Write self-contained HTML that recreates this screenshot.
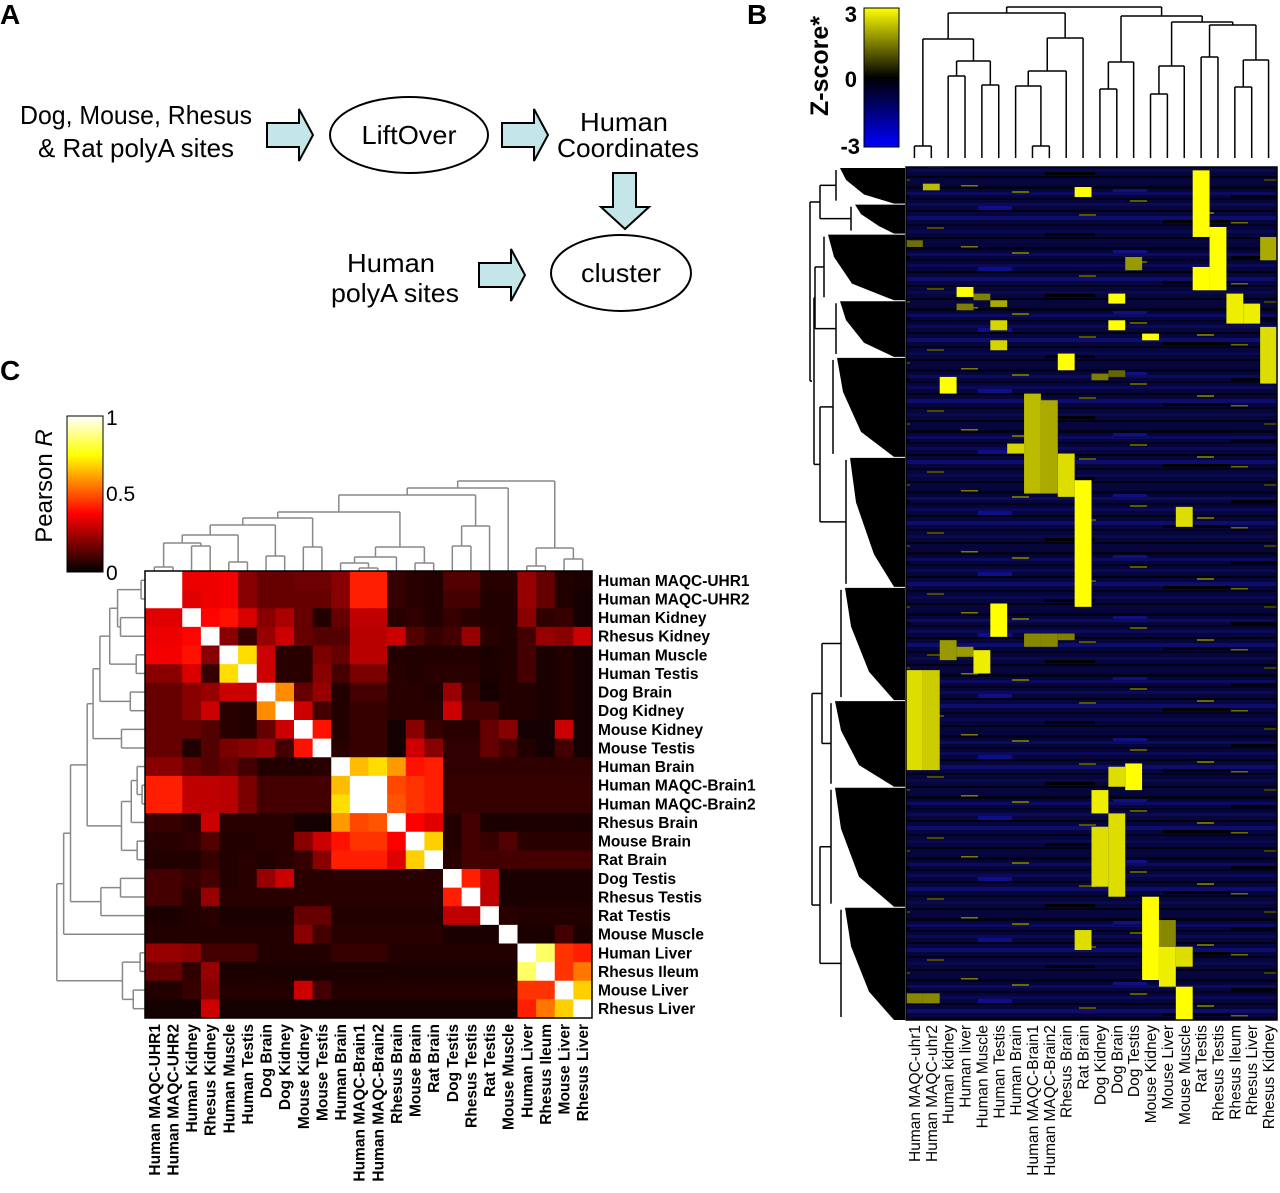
<!DOCTYPE html>
<html><head><meta charset="utf-8"><style>
html,body{margin:0;padding:0;background:#fff;width:1280px;height:1193px;overflow:hidden}
svg{display:block}
.nar{font-family:"Liberation Sans",sans-serif}
.lab{font-family:"Liberation Sans",sans-serif}
</style></head><body>
<svg id="fig" width="1280" height="1193" viewBox="0 0 1280 1193" xmlns="http://www.w3.org/2000/svg">
<defs>
<linearGradient id="zgrad" x1="0" y1="0" x2="0" y2="1">
<stop offset="0" stop-color="#ffff00"/><stop offset="0.5" stop-color="#000000"/><stop offset="1" stop-color="#0000ff"/></linearGradient>
<linearGradient id="rgrad" x1="0" y1="1" x2="0" y2="0">
<stop offset="0" stop-color="#000"/><stop offset="0.375" stop-color="#ff0000"/><stop offset="0.75" stop-color="#ffff00"/><stop offset="1" stop-color="#fff"/></linearGradient>
<pattern id="bgtex" width="371" height="61" patternUnits="userSpaceOnUse">
<rect width="371" height="61" fill="#06063c"/>
<rect y="3" width="371" height="3" fill="#010118"/><rect y="9" width="371" height="3" fill="#0b0b62"/>
<rect y="15" width="371" height="2" fill="#020220"/><rect y="20" width="371" height="3" fill="#0a0a58"/>
<rect y="27" width="371" height="2" fill="#000010"/><rect y="33" width="371" height="4" fill="#0d0d6e"/>
<rect y="41" width="371" height="2" fill="#02021c"/><rect y="47" width="371" height="3" fill="#09094e"/>
<rect y="54" width="371" height="2" fill="#000012"/>
<rect x="0" y="6" width="34" height="3" fill="#101080"/><rect x="118" y="12" width="50" height="3" fill="#000008"/>
<rect x="236" y="23" width="34" height="4" fill="#1010a0" opacity="0.8"/><rect x="50" y="37" width="67" height="3" fill="#000"/>
<rect x="303" y="50" width="50" height="3" fill="#000"/>
<rect x="17" y="17" width="17" height="2" fill="#5a5a00"/><rect x="84" y="29" width="17" height="2" fill="#6a6a00"/>
<rect x="185" y="44" width="17" height="2" fill="#4a4a00"/><rect x="270" y="8" width="17" height="2" fill="#6a6a00"/>
<rect x="151" y="57" width="17" height="2" fill="#3d3d00"/><rect x="337" y="31" width="17" height="2" fill="#555500"/>
<rect x="219" y="2" width="17" height="1.5" fill="#7a7a00"/><rect x="118" y="39" width="17" height="1.5" fill="#6a6a00"/>
</pattern>
</defs>

<text x="0" y="24" font-size="28" font-weight="bold" class="lab">A</text>
<text x="747" y="24" font-size="28" font-weight="bold" class="lab">B</text>
<text x="0" y="380" font-size="28" font-weight="bold" class="lab">C</text>

<g class="nar" font-size="26" fill="#000">
<text x="136" y="124" text-anchor="middle" textLength="232" lengthAdjust="spacingAndGlyphs">Dog, Mouse, Rhesus</text>
<text x="136" y="157" text-anchor="middle" textLength="196" lengthAdjust="spacingAndGlyphs">&amp; Rat polyA sites</text>
<path d="M267,123 h32 v-14 l14,26 l-14,26 v-14 h-32 z" fill="#c4e6e8" stroke="#000" stroke-width="2"/>
<ellipse cx="409" cy="135" rx="79" ry="38" fill="#fff" stroke="#000" stroke-width="2"/>
<text x="409" y="144" text-anchor="middle" textLength="95" lengthAdjust="spacingAndGlyphs">LiftOver</text>
<path d="M502,123 h32 v-14 l14,26 l-14,26 v-14 h-32 z" fill="#c4e6e8" stroke="#000" stroke-width="2"/>
<text x="624" y="131" text-anchor="middle" textLength="88" lengthAdjust="spacingAndGlyphs">Human</text>
<text x="628" y="157" text-anchor="middle" textLength="142" lengthAdjust="spacingAndGlyphs">Coordinates</text>
<path d="M613,173 h23 v34 h13 l-24,22 l-24,-22 h12 z" fill="#c4e6e8" stroke="#000" stroke-width="2"/>
<ellipse cx="621" cy="273" rx="70" ry="38" fill="#fff" stroke="#000" stroke-width="2"/>
<text x="621" y="282" text-anchor="middle" textLength="80" lengthAdjust="spacingAndGlyphs">cluster</text>
<text x="391" y="272" text-anchor="middle" textLength="88" lengthAdjust="spacingAndGlyphs">Human</text>
<text x="395" y="302" text-anchor="middle" textLength="128" lengthAdjust="spacingAndGlyphs">polyA sites</text>
<path d="M479,263 h32 v-14 l14,26 l-14,26 v-14 h-32 z" fill="#c4e6e8" stroke="#000" stroke-width="2"/>
</g>

<g>
<rect x="864" y="8" width="35" height="139" fill="url(#zgrad)" stroke="#000" stroke-width="1"/>
<text x="857" y="22" font-size="22" font-weight="bold" text-anchor="end" class="lab">3</text>
<text x="857" y="87" font-size="22" font-weight="bold" text-anchor="end" class="lab">0</text>
<text x="860" y="154" font-size="22" font-weight="bold" text-anchor="end" class="lab">-3</text>
<text transform="translate(828,66) rotate(-90)" font-size="25" font-weight="bold" text-anchor="middle" class="lab">Z-score*</text>
</g>

<g id="bTopDendro"></g>
<g id="bLeftDendro"></g>
<g id="bHeat"></g>
<g id="bLabels"></g>

<g>
<rect x="67" y="416" width="36" height="156" fill="url(#rgrad)" stroke="#000" stroke-width="1"/>
<text x="106" y="425" font-size="21" class="lab">1</text>
<text x="106" y="501" font-size="21" class="lab">0.5</text>
<text x="106" y="580" font-size="21" class="lab">0</text>
<text transform="translate(52,486) rotate(-90)" font-size="24" text-anchor="middle" class="lab">Pearson <tspan font-style="italic">R</tspan></text>
</g>
<g id="cTopDendro"></g>
<g id="cLeftDendro"></g>
<g id="cMatrix"></g>
<g id="cLabels"></g>
</svg>
<script>
const bSamples = ["Human MAQC-uhr1","Human MAQC-uhr2","Human kidney","Human liver","Human Muscle","Human Testis","Human Brain","Human MAQC-Brain1","Human MAQC-Brain2","Rhesus Brain","Rat Brain","Dog Kidney","Dog Brain","Dog Testis","Mouse Kidney","Mouse Liver","Mouse Muscle","Rat Testis","Rhesus Testis","Rhesus Ileum","Rhesus Liver","Rhesus Kidney"];
const bRowCount = 256;
const hotCol   = [17,17,18,10,10,9,9,7,8,6,19,20,21,21,2,3,12,12,14,13,16,5,5,5,4,2,3,0,1,7,8,13,12,12,11,11,14,15,15,16,16,10,0,1,0,1,4,5,3,11,12,9];
const hotStart = [1,30,18,6,94,56,86,68,70,83,38,41,48,21,63,36,38,46,50,27,102,46,52,131,145,142,144,151,151,140,140,179,180,194,187,198,219,234,226,234,246,229,248,248,22,5,38,40,41,62,61,140];
const hotEnd   = [20,36,36,8,131,60,98,97,97,85,46,46,64,27,67,38,40,48,51,30,107,48,54,140,151,147,146,180,180,143,143,186,185,218,193,215,243,245,233,239,255,234,250,250,23,6,39,41,42,63,62,141];
const hotZ     = [3,3,3,3,3,3,2.6,2.2,2,2.5,2.8,2.8,2.6,2,3,3,3,3,3,1.8,2.6,2.5,2.5,3,2.8,1.8,1.8,2.6,2.4,1.6,1.6,3,2.6,2.6,2.8,2.6,3,2.8,1.6,2.6,3,2.6,1.6,1.6,1.3,2.2,1.5,2,1.5,1.5,1.2,1.5];
const bMerges = [[0,1,12],[2,3,82],[4,5,73],[23,24,97],[22,25,119],[7,8,12],[6,27,72],[28,9,87],[29,10,120],[26,30,145],[11,12,69],[32,13,96],[14,15,64],[34,16,92],[17,18,101],[19,20,71],[37,21,98],[36,38,133],[35,39,136],[33,40,142],[31,41,151]];
const bClusterStart = [0,11,20,40,57,87,126,160,186,222];
const bClusterEnd   = [11,20,40,57,87,126,160,186,222,256];
const bClusterDepth = [70,55,82,70,73,60,65,75,75,65];

const cSamples = ["Human MAQC-UHR1","Human MAQC-UHR2","Human Kidney","Rhesus Kidney","Human Muscle","Human Testis","Dog Brain","Dog Kidney","Mouse Kidney","Mouse Testis","Human Brain","Human MAQC-Brain1","Human MAQC-Brain2","Rhesus Brain","Mouse Brain","Rat Brain","Dog Testis","Rhesus Testis","Rat Testis","Mouse Muscle","Human Liver","Rhesus Ileum","Mouse Liver","Rhesus Liver"];
const cR = [
[1,1,.35,.35,.36,.2,.15,.15,.16,.16,.2,.42,.42,.08,.06,.05,.12,.12,.06,.06,.22,.15,.05,.04],
[1,1,.33,.35,.36,.2,.15,.15,.15,.15,.2,.42,.42,.08,.06,.05,.1,.1,.05,.05,.22,.15,.05,.03],
[.33,.33,1,.38,.4,.32,.2,.25,.15,.05,.15,.28,.28,.06,.07,.05,.08,.06,.05,.05,.2,.07,.08,.03],
[.35,.35,.38,1,.2,.08,.22,.3,.15,.12,.12,.27,.27,.3,.12,.08,.1,.22,.06,.05,.1,.22,.2,.3],
[.36,.36,.4,.2,1,.7,.3,.06,.06,.18,.15,.27,.27,.05,.05,.05,.05,.05,.04,.05,.1,.04,.05,.03],
[.2,.2,.32,.08,.7,1,.3,.06,.06,.2,.1,.18,.18,.06,.05,.06,.06,.06,.04,.05,.1,.04,.05,.03],
[.15,.15,.2,.22,.3,.3,1,.58,.15,.22,.05,.1,.1,.06,.06,.05,.22,.08,.03,.05,.05,.04,.05,.03],
[.15,.15,.2,.3,.06,.05,.58,1,.3,.1,.05,.08,.08,.06,.06,.06,.3,.1,.1,.05,.05,.04,.05,.03],
[.15,.15,.15,.12,.06,.05,.15,.3,1,.4,.05,.08,.08,.03,.2,.08,.06,.06,.15,.2,.03,.03,.3,.03],
[.15,.15,.05,.12,.18,.2,.22,.1,.4,1,.06,.08,.08,.03,.3,.2,.07,.07,.15,.1,.05,.03,.1,.03],
[.2,.2,.15,.12,.15,.1,.05,.05,.05,.06,1,.65,.7,.6,.4,.42,.07,.07,.07,.07,.07,.07,.07,.07],
[.42,.42,.28,.28,.27,.18,.1,.1,.1,.1,.65,1,1,.48,.45,.42,.08,.08,.08,.08,.08,.08,.08,.08],
[.42,.42,.28,.28,.27,.18,.1,.1,.1,.1,.7,1,1,.5,.45,.42,.08,.08,.08,.08,.08,.08,.08,.08],
[.08,.08,.06,.3,.06,.06,.06,.06,.03,.03,.6,.48,.5,1,.37,.33,.05,.1,.04,.04,.04,.04,.04,.04],
[.06,.06,.07,.12,.05,.05,.06,.06,.2,.3,.4,.45,.45,.37,1,.68,.05,.1,.08,.12,.06,.06,.06,.06],
[.05,.05,.05,.08,.05,.06,.05,.06,.08,.2,.42,.42,.42,.33,.68,1,.06,.1,.1,.1,.1,.1,.1,.1],
[.1,.1,.08,.1,.05,.06,.22,.3,.06,.06,.06,.06,.06,.06,.06,.06,1,.42,.28,.04,.04,.04,.04,.04],
[.1,.1,.06,.22,.06,.06,.06,.06,.06,.06,.06,.06,.06,.06,.06,.06,.42,1,.28,.04,.04,.04,.04,.04],
[.04,.04,.05,.06,.04,.04,.04,.04,.15,.15,.05,.05,.05,.05,.05,.05,.28,.28,1,.06,.05,.05,.05,.05],
[.05,.05,.05,.05,.05,.05,.05,.05,.2,.1,.06,.06,.06,.06,.06,.06,.04,.04,.04,1,.04,.04,.1,.04],
[.22,.22,.2,.1,.1,.1,.05,.05,.05,.05,.08,.08,.08,.05,.05,.05,.05,.05,.05,.05,1,.85,.45,.42],
[.15,.15,.07,.22,.04,.04,.04,.04,.04,.04,.04,.04,.04,.04,.04,.04,.04,.04,.04,.04,.85,1,.45,.55],
[.05,.05,.08,.2,.05,.05,.05,.05,.3,.1,.05,.05,.05,.05,.05,.05,.05,.05,.05,.05,.45,.45,1,.68],
[.03,.03,.03,.3,.03,.03,.03,.03,.03,.03,.03,.03,.03,.03,.03,.03,.03,.03,.03,.03,.42,.55,.68,1]];
const cMerges = [[0,1,4],[2,3,25],[24,25,28],[4,5,9],[26,27,36],[6,7,15],[28,29,46],[8,9,24],[30,31,53],[11,12,3],[10,33,8],[34,13,14],[14,15,8],[35,36,24],[32,37,59],[16,17,25],[39,18,45],[38,40,76],[41,19,83],[20,21,5],[22,23,12],[43,44,23],[42,45,90]];

const NS = "http://www.w3.org/2000/svg";
function mk(tag, attrs, parent){const e=document.createElementNS(NS,tag);for(const k in attrs)e.setAttribute(k,attrs[k]);parent.appendChild(e);return e;}

const bX0=906, bX1=1277, bY0=167, bY1=1020;
const bColW=(bX1-bX0)/bSamples.length, bRowH=(bY1-bY0)/bRowCount;
const bx = i => bX0 + i*bColW;
const by = r => bY0 + r*bRowH;
function zColor(z){z=Math.max(-3,Math.min(3,z));const t=Math.abs(z)/3;const v=Math.round(255*t);return z>=0?`rgb(${v},${v},0)`:`rgb(0,0,${v})`;}

const cX0=145, cY0=571, cSize=447;
const cCell=cSize/cSamples.length;
const cx = i => cX0 + i*cCell;
const cy = i => cY0 + i*cCell;
function hot(v){const r=Math.min(1,v/0.375),g=Math.max(0,Math.min(1,(v-0.375)/0.375)),b=Math.max(0,Math.min(1,(v-0.75)/0.25));return `rgb(${Math.round(r*255)},${Math.round(g*255)},${Math.round(b*255)})`;}

function dendro(parent, merges, nLeaves, leafPos, hCoord, vertical, color, sw, nm){
  const pos=[], h=[];
  for(let i=0;i<nLeaves;i++){pos.push(leafPos(i));h.push(0);}
  merges.forEach(m=>{
    const [a,b,hm]=m;
    const p=(pos[a]+pos[b])/2;
    [a,b].forEach(c=>{
      let l;
      if(vertical) l=mk('line',{x1:pos[c],x2:pos[c],y1:hCoord(h[c]),y2:hCoord(hm),stroke:color,'stroke-width':sw},parent);
      else l=mk('line',{y1:pos[c],y2:pos[c],x1:hCoord(h[c]),x2:hCoord(hm),stroke:color,'stroke-width':sw},parent);
      
      
    });
    let hl;
    if(vertical) hl=mk('line',{x1:pos[a],x2:pos[b],y1:hCoord(hm),y2:hCoord(hm),stroke:color,'stroke-width':sw},parent);
    else hl=mk('line',{y1:pos[a],y2:pos[b],x1:hCoord(hm),x2:hCoord(hm),stroke:color,'stroke-width':sw},parent);
    
    
    pos.push(p);h.push(hm);
  });
}

const bHeat=document.getElementById('bHeat');
const bg=mk('rect',{x:bX0,y:bY0,width:bX1-bX0,height:bY1-bY0,fill:'url(#bgtex)'},bHeat);


for(let k=0;k<hotCol.length;k++){
  const r=mk('rect',{x:bx(hotCol[k]),y:by(hotStart[k]),width:bColW,height:by(hotEnd[k]+1)-by(hotStart[k]),fill:zColor(hotZ[k])},bHeat);
  
  
}
const bFrame=mk('rect',{x:bX0,y:bY0,width:bX1-bX0,height:bY1-bY0,fill:'none',stroke:'#000','stroke-width':1.5},bHeat);



dendro(document.getElementById('bTopDendro'), bMerges, bSamples.length, i=>bx(i)+bColW/2, d=>158-d, true, '#000', 1.5, 'b-col-dendro');

const bLabels=document.getElementById('bLabels');
bSamples.forEach((s,i)=>{
  const t=mk('text',{transform:`translate(${bx(i)+bColW/2+5.5},1025) rotate(-90)`,'text-anchor':'end','font-size':15.5,class:'lab'},bLabels);
  t.textContent=s;
  
  
});

const bLeft=document.getElementById('bLeftDendro');
const stems=[];
for(let k=0;k<bClusterStart.length;k++){
  const y0=by(bClusterStart[k]), y1=by(bClusterEnd[k]);
  const sx=bX0-bClusterDepth[k];
  const hgt=y1-y0;
  const p=mk('polygon',{points:`${sx+4},${y0+1} ${bX0-1},${y0+1} ${bX0-1},${y1} ${bX0-12},${y1} ${sx+28},${y0+hgt*0.75} ${sx+10},${y0+hgt*0.35}`,fill:'#000'},bLeft);
  
  
  const l=mk('line',{x1:sx,x2:sx,y1:y0+3,y2:y1-3,stroke:'#000','stroke-width':1.5},bLeft);
  
  
  stems.push([sx,(y0+y1)/2]);
}
const joins=[[0,1,820],[2,3,815],[4,5,820],[6,7,822],[8,9,820]];
const joinPos=[];
joins.forEach(j=>{
  const [a,b,x]=j;
  [a,b].forEach(c=>{const l=mk('line',{x1:x,x2:stems[c][0],y1:stems[c][1],y2:stems[c][1],stroke:'#000','stroke-width':1.5},bLeft);
    
    });
  const v=mk('line',{x1:x,x2:x,y1:stems[a][1],y2:stems[b][1],stroke:'#000','stroke-width':1.5},bLeft);
  
  
  joinPos.push([x,(stems[a][1]+stems[b][1])/2]);
});
[[1,2,814],[3,4,812]].forEach(j=>{
  const [a,b,x]=j;
  [a,b].forEach(c=>{const l=mk('line',{x1:x,x2:joinPos[c][0],y1:joinPos[c][1],y2:joinPos[c][1],stroke:'#000','stroke-width':1.5},bLeft);
    
    });
  const v=mk('line',{x1:x,x2:x,y1:joinPos[a][1],y2:joinPos[b][1],stroke:'#000','stroke-width':1.5},bLeft);
  
  
});
const root=mk('line',{x1:810,x2:810,y1:joinPos[0][1],y2:(joinPos[1][1]+joinPos[2][1])/2,stroke:'#000','stroke-width':1.5},bLeft);


[[joinPos[0][1],820],[(joinPos[1][1]+joinPos[2][1])/2,812]].forEach(p=>{
  const l=mk('line',{x1:810,x2:p[1],y1:p[0],y2:p[0],stroke:'#000','stroke-width':1.5},bLeft);
  
  
});

const cMat=document.getElementById('cMatrix');
cR.forEach((row,i)=>row.forEach((v,j)=>{
  const r=mk('rect',{x:cx(j),y:cy(i),width:cCell+0.5,height:cCell+0.5,fill:hot(v)},cMat);
  
  
}));
const cf=mk('rect',{x:cX0,y:cY0,width:cSize,height:cSize,fill:'none',stroke:'#000','stroke-width':1.5},cMat);



dendro(document.getElementById('cTopDendro'), cMerges, cSamples.length, i=>cx(i)+cCell/2, d=>cY0-d, true, '#888', 1.5, 'c-col-dendro');
dendro(document.getElementById('cLeftDendro'), cMerges, cSamples.length, i=>cy(i)+cCell/2, d=>cX0-d*0.98, false, '#888', 1.5, 'c-row-dendro');

const cLab=document.getElementById('cLabels');
cSamples.forEach((s,i)=>{
  const t=mk('text',{x:598,y:cy(i)+cCell/2+5.5,'font-size':15.5,'font-weight':'bold',class:'lab'},cLab);
  t.textContent=s;
  
  
  const t2=mk('text',{transform:`translate(${cx(i)+cCell/2+5.5},1024) rotate(-90)`,'text-anchor':'end','font-size':15.5,'font-weight':'bold',class:'lab'},cLab);
  t2.textContent=s;
  
  
});
</script>
</body></html>
